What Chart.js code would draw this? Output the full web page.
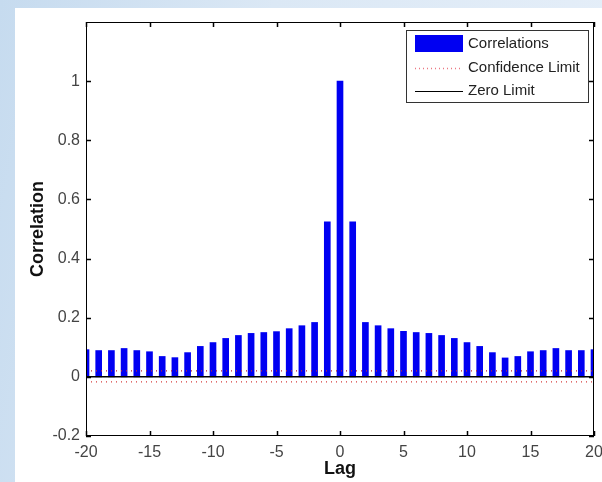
<!DOCTYPE html>
<html>
<head>
<meta charset="utf-8">
<script src="https://cdn.jsdelivr.net/npm/chart.js@4"></script>
<style>
  html, body { margin: 0; padding: 0; }
  body {
    width: 602px; height: 482px; overflow: hidden; position: relative;
    background: linear-gradient(100deg, #c6dbef 0%, #dbe8f5 40%, #e6eff9 100%);
  }
  #paper { position: absolute; left: 15px; top: 8px; width: 587px; height: 474px; background: #fff; }
  #chart { position: absolute; left: 0; top: 0; }
</style>
</head>
<body>
<div id="paper"></div>
<canvas id="chart" width="602" height="482"></canvas>
<script>
/* ---------- datos ---------- */
const lags = [-20,-19,-18,-17,-16,-15,-14,-13,-12,-11,-10,-9,-8,-7,-6,-5,-4,-3,-2,-1,
              0,1,2,3,4,5,6,7,8,9,10,11,12,13,14,15,16,17,18,19,20];
const correlations = [0.092,0.089,0.089,0.096,0.089,0.085,0.069,0.065,0.082,0.103,
                      0.116,0.130,0.140,0.147,0.150,0.153,0.163,0.173,0.184,0.524,
                      1.000,
                      0.524,0.184,0.173,0.163,0.154,0.150,0.147,0.140,0.130,0.116,
                      0.103,0.082,0.064,0.069,0.085,0.089,0.096,0.089,0.089,0.092];
const limitLags = [-20, 20];
const confUpper = [0.020, 0.020];
const confLower = [-0.017, -0.017];
const zeroLimit = [0, 0];
const xTicks = [-20,-15,-10,-5,0,5,10,15,20];
const yTicks = [-0.2,0,0.2,0.4,0.6,0.8,1];

const FONT = "'Liberation Sans', Arial, sans-serif";
const RED = "rgb(214,60,60)";

function pts(xs, ys) {
    return xs.map((x, i) => ({ x: x, y: ys[i] }));
}

/* marco + marcas hacia dentro (estilo matlab) */
const framePlugin = {
    id: "frame",
    afterDatasetsDraw(chart) {
        const { ctx, chartArea: a, scales } = chart;
        ctx.save();
        ctx.strokeStyle = "#000";
        ctx.lineWidth = 1;
        ctx.strokeRect(a.left + 0.5, a.top + 0.5, a.right - a.left - 1, a.bottom - a.top - 1);
        ctx.lineWidth = 1.5;
        ctx.beginPath();
        for (const v of xTicks) {
            const x = Math.round(scales.x.getPixelForValue(v)) + 0.5;
            ctx.moveTo(x, a.bottom); ctx.lineTo(x, a.bottom - 5);
            ctx.moveTo(x, a.top); ctx.lineTo(x, a.top + 5);
        }
        for (const v of yTicks) {
            const y = Math.round(scales.y.getPixelForValue(v)) + 0.5;
            ctx.moveTo(a.left, y); ctx.lineTo(a.left + 5, y);
            ctx.moveTo(a.right, y); ctx.lineTo(a.right - 5, y);
        }
        ctx.stroke();
        ctx.restore();
    },
    afterDraw(chart) {
        // leyenda en caja, arriba a la derecha
        const { ctx } = chart;
        const ds = chart.data.datasets;
        const bx = 406, by = 30, bw = 182, bh = 72;
        ctx.save();
        ctx.fillStyle = "#fff";
        ctx.fillRect(bx, by, bw, bh);
        ctx.strokeStyle = "#333";
        ctx.lineWidth = 1;
        ctx.strokeRect(bx + 0.5, by + 0.5, bw, bh);
        ctx.font = "15px " + FONT;
        ctx.textBaseline = "middle";
        const rows = [44, 68, 91];
        // barras
        ctx.fillStyle = ds[0].backgroundColor;
        ctx.fillRect(415, 35, 48, 17);
        // lineas
        ctx.strokeStyle = "rgb(235,120,130)";
        ctx.lineWidth = 1.3;
        ctx.setLineDash([1, 3]);
        ctx.beginPath(); ctx.moveTo(415, rows[1] + 0.5); ctx.lineTo(463, rows[1] + 0.5); ctx.stroke();
        ctx.setLineDash([]);
        ctx.lineWidth = 1;
        ctx.strokeStyle = ds[3].borderColor;
        ctx.beginPath(); ctx.moveTo(415, rows[2] + 0.5); ctx.lineTo(463, rows[2] + 0.5); ctx.stroke();
        ctx.fillStyle = "#222";
        const labels = [ds[0].label, ds[1].label, ds[3].label];
        labels.forEach((t, i) => ctx.fillText(t, 468, rows[i]));
        ctx.restore();
    }
};

new Chart(document.getElementById("chart"), {
    data: {
        datasets: [
            {
                type: "bar",
                label: "Correlations",
                data: pts(lags, correlations),
                backgroundColor: "rgb(0,0,242)",
                borderWidth: 0,
                barThickness: 6,
                order: 3
            },
            {
                type: "line",
                label: "Confidence Limit",
                data: pts(limitLags, confUpper),
                borderColor: "rgb(190,40,50)",
                borderWidth: 1.2,
                borderDash: [1, 4],
                pointRadius: 0,
                order: 1
            },
            {
                type: "line",
                label: "Confidence Limit (lower)",
                data: pts(limitLags, confLower),
                borderColor: RED,
                borderWidth: 1.2,
                borderDash: [1, 4],
                pointRadius: 0,
                order: 1
            },
            {
                type: "line",
                label: "Zero Limit",
                data: pts(limitLags, zeroLimit),
                borderColor: "#000",
                borderWidth: 1.5,
                pointRadius: 0,
                order: 0
            }
        ]
    },
    options: {
        responsive: false,
        animation: false,
        layout: { padding: { top: 22, right: 8, left: 0, bottom: 0 } },
        plugins: {
            legend: { display: false },
            tooltip: { enabled: false }
        },
        scales: {
            x: {
                type: "linear",
                min: -20, max: 20,
                offset: false,
                grid: { display: false, drawTicks: false },
                border: { display: false },
                ticks: {
                    stepSize: 5,
                    padding: 7,
                    color: "#444",
                    font: { family: FONT, size: 16 }
                },
                title: {
                    display: true,
                    text: "Lag",
                    color: "#111",
                    font: { family: FONT, size: 18, weight: "bold" },
                    padding: { top: 0, bottom: 2 }
                },
                afterFit(scale) {
                    scale.height = 46;
                    scale.paddingLeft = 0;
                    scale.paddingRight = 0;
                }
            },
            y: {
                min: -0.2, max: 1.2,
                grid: { display: false, drawTicks: false },
                border: { display: false },
                ticks: {
                    stepSize: 0.2,
                    padding: 6,
                    color: "#444",
                    font: { family: FONT, size: 16 },
                    callback: (v) => (v > 1.05 ? "" : String(Math.round(v * 10) / 10))
                },
                title: {
                    display: true,
                    text: "Correlation",
                    color: "#111",
                    font: { family: FONT, size: 18, weight: "bold" },
                    padding: { top: 27, bottom: 0 }
                },
                afterFit(scale) {
                    scale.width = 86;
                    scale.paddingTop = 0;
                    scale.paddingBottom = 0;
                }
            }
        }
    },
    plugins: [framePlugin]
});
</script>
</body>
</html>
